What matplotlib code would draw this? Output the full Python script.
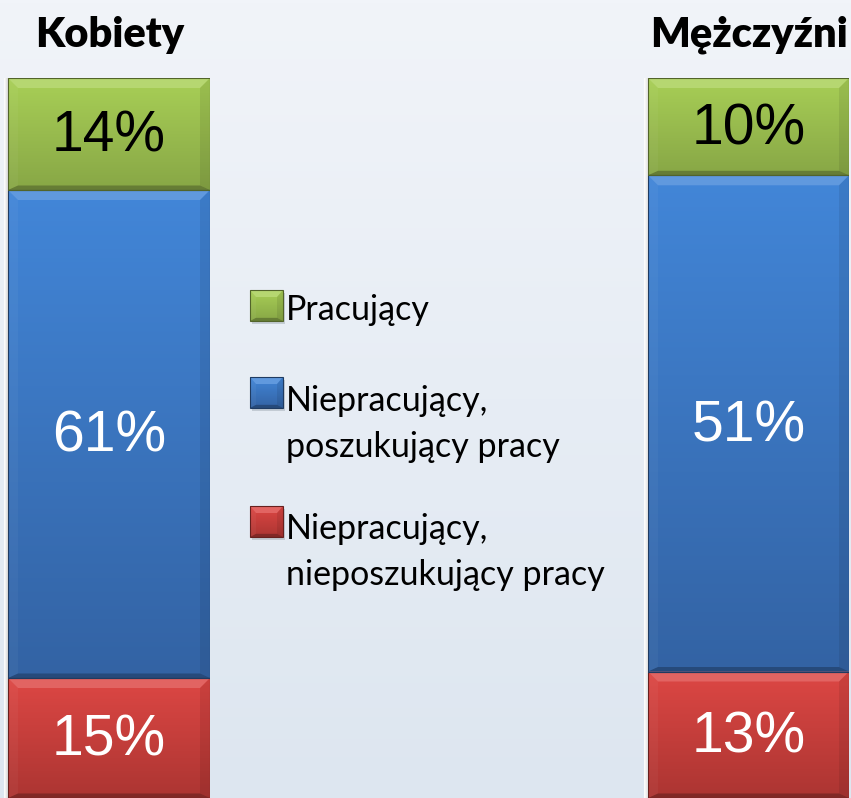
import numpy as np
import matplotlib
matplotlib.use("Agg")
import matplotlib.pyplot as plt
from matplotlib.colors import to_rgb
from matplotlib.patches import Polygon, Rectangle

# data (bottom -> top in each bar)
groups = ["Kobiety", "Mężczyźni"]
kobiety = [15, 61, 14]
mezczyzni = [13, 51, 10]
seg_top = ["#dd4744", "#4286d8", "#a8cf56"]
seg_bot = ["#ac3532", "#3363a4", "#88a746"]
label_colors = ["white", "white", "black"]
legend_labels = ["Pracujący", "Niepracujący,\nposzukujący pracy",
                 "Niepracujący,\nnieposzukujący pracy"]
legend_top = ["#a8cf56", "#4286d8", "#dd4744"]
legend_bot = ["#88a746", "#3363a4", "#ac3532"]

W, H = 851, 798
fig = plt.figure(figsize=(W / 100, H / 100), dpi=100)

# background gradient
bg = fig.add_axes([0, 0, 1, 1], zorder=0)
t = np.linspace(0, 1, 256)[:, None, None]
c_top = np.array([241, 244, 249]) / 255
c_bot = np.array([221, 230, 240]) / 255
bg.imshow(c_top * (1 - t) + c_bot * t, aspect="auto", extent=(0, 1, 0, 1))
bg.set_xlim(0, 1)
bg.set_ylim(0, 1)
bg.axis("off")


def shade(c, f):
    c = np.array(to_rgb(c))
    if f > 0:
        return c + (1 - c) * f
    return c * (1 + f)


def bevel_block(ax, x0, y0, w, h, ctop, cbot, bx, by, edge=True):
    x1, y1 = x0 + w, y0 + h
    ctop, cbot = np.array(to_rgb(ctop)), np.array(to_rgb(cbot))
    g = np.linspace(0, 1, 64)[:, None, None]
    ax.imshow(ctop * (1 - g) + cbot * g, extent=(x0, x1, y0, y1), aspect="auto",
              zorder=2, interpolation="bilinear")
    bb = by * 0.45
    ax.add_patch(Polygon([(x0, y1), (x1, y1), (x1 - bx, y1 - by), (x0 + bx, y1 - by)],
                         closed=True, color=shade(ctop, 0.16), lw=0, zorder=3))
    ax.add_patch(Polygon([(x0, y0), (x1, y0), (x1 - bx, y0 + bb), (x0 + bx, y0 + bb)],
                         closed=True, color=shade(cbot, -0.25), lw=0, zorder=3))
    ax.add_patch(Polygon([(x0, y0), (x0, y1), (x0 + bx, y1 - by), (x0 + bx, y0 + bb)],
                         closed=True, color="white", alpha=0.04, lw=0, zorder=3))
    ax.add_patch(Polygon([(x1, y0), (x1, y1), (x1 - bx, y1 - by), (x1 - bx, y0 + bb)],
                         closed=True, color="black", alpha=0.08, lw=0, zorder=3))
    if edge:
        ax.add_patch(Rectangle((x0, y0), w, h, fill=False,
                               ec=shade(cbot, -0.4), lw=0.8, zorder=4))


bar_boxes = [(8, 210), (648, 849)]
top_px, bot_px = 78, 798

for name, vals, (xl, xr) in zip(groups, [kobiety, mezczyzni], bar_boxes):
    total = sum(vals)
    # soft shadow on the left of the bar
    shadow = fig.add_axes([(xl - 4) / W, 1 - bot_px / H, 4 / W, (bot_px - top_px) / H], zorder=1)
    sh = np.linspace(0, 1, 16)[None, :]
    shadow.imshow(sh, cmap="Greys", vmin=0, vmax=3.5, aspect="auto", extent=(0, 1, 0, 1))
    shadow.axis("off")

    ax = fig.add_axes([xl / W, 1 - bot_px / H, (xr - xl) / W, (bot_px - top_px) / H], zorder=2)
    ax.patch.set_alpha(0)
    bars = ax.bar([0.5] * 3, vals, width=1, bottom=np.cumsum([0] + vals[:-1]),
                  color=seg_bot, lw=0, zorder=1)
    px = total / (bot_px - top_px)
    by = 10 * px
    bx = 10 / (xr - xl)
    for b, ct, cb, v, lc in zip(bars, seg_top, seg_bot, vals, label_colors):
        bevel_block(ax, b.get_x(), b.get_y(), b.get_width(), b.get_height(), ct, cb, bx, by)
        ax.text(0.5, b.get_y() + b.get_height() / 2 - 3 * px, f"{v}%", ha="center",
                va="center", fontsize=41, color=lc, family="Liberation Sans", zorder=5)
    ax.set_xlim(0, 1)
    ax.set_ylim(0, total)
    ax.axis("off")
    fig.text((xl + xr) / 2 / W + 1 / W, 1 - 47 / H, name, ha="center", va="baseline",
             fontsize=30, fontweight="heavy", family="Lato")

# legend drawn in pixel space
lg = fig.add_axes([0, 0, 1, 1], zorder=3)
lg.patch.set_alpha(0)
lg.set_xlim(0, W)
lg.set_ylim(H, 0)
lg.axis("off")
marker_tops = [290, 377, 506]
baselines = [[320], [411, 457], [539, 585]]
for lab, ct, cb, mt, bls in zip(legend_labels, legend_top, legend_bot, marker_tops, baselines):
    lg.add_patch(Rectangle((252, mt + 3), 33, 31, color="#9aa3ad", alpha=0.45, lw=0, zorder=1))
    bevel_block(lg, 250, mt + 31, 33, -31, ct, cb, 6, -7, edge=True)
    for line, bl in zip(lab.split("\n"), bls):
        lg.text(286, bl, line, ha="left", va="baseline", fontsize=24.5, family="Lato",
                color="black", zorder=5)
lg.set_xlim(0, W)
lg.set_ylim(H, 0)

fig.savefig("out.png", dpi=100)
